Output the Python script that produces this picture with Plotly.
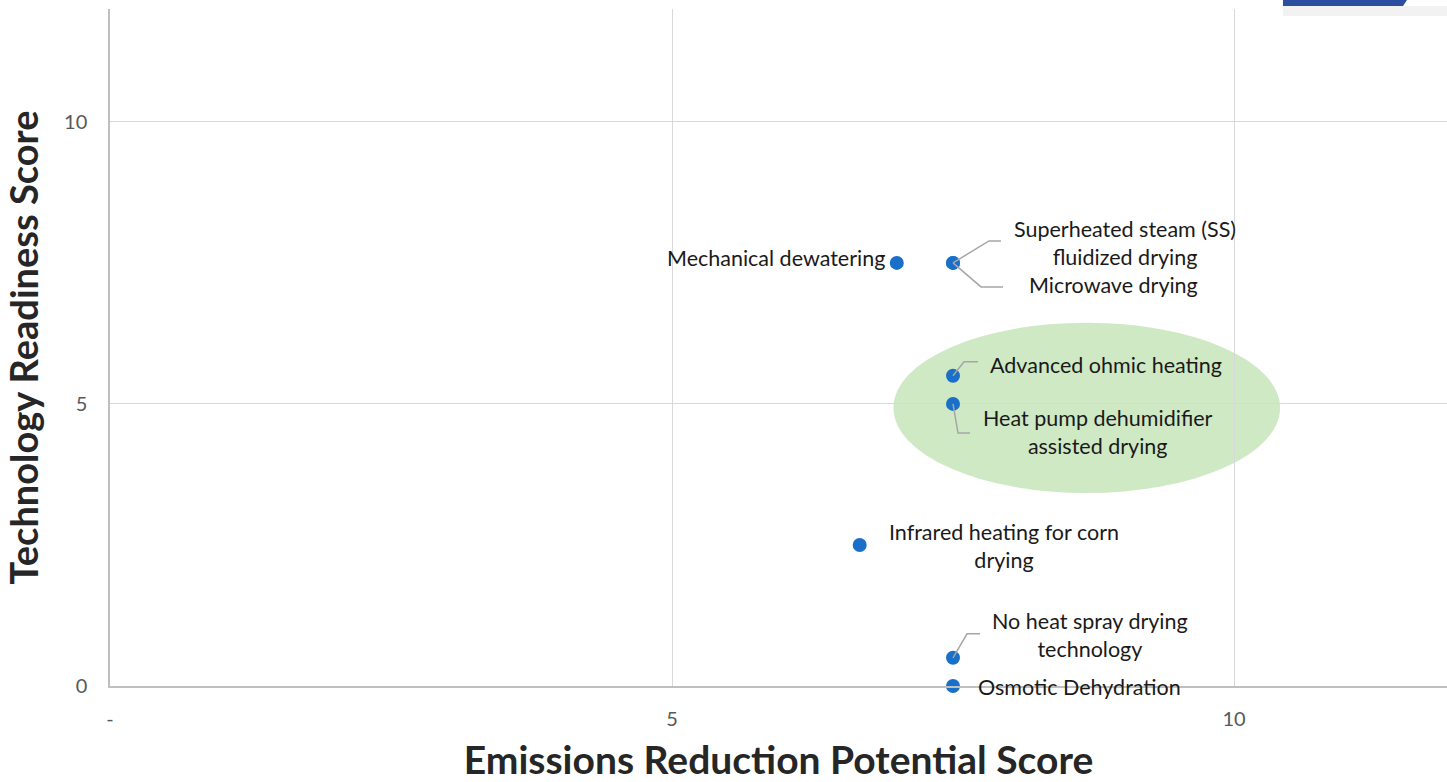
import plotly.graph_objects as go

# ---- data ----
names = [
    "Mechanical dewatering",
    "Superheated steam (SS)<br>fluidized drying",
    "Microwave drying",
    "Advanced ohmic heating",
    "Heat pump dehumidifier<br>assisted drying",
    "Infrared heating for corn<br>drying",
    "No heat spray drying<br>technology",
    "Osmotic Dehydration",
]
emissions_score = [7.0, 7.5, 7.5, 7.5, 7.5, 6.67, 7.5, 7.5]
readiness_score = [7.5, 7.5, 7.5, 5.5, 5.0, 2.5, 0.5, 0.0]
x_tick_vals = [0, 5, 10]
x_tick_text = ["-", "5", "10"]
y_tick_vals = [0, 5, 10]
y_tick_text = ["0", "5", "10"]

# label placement (pixel offsets from each point; up is positive)
label_shift = [(-10, 5), (172, 20), (160, -22), (153, 11), (145, -28), (144, -1), (137, 23), (126, -1)]
label_anchor = ["right", "center", "center", "center", "center", "center", "center", "center"]
# leader lines as pixel offsets (up is positive)
leaders = [None, [(0, 0), (36, 22), (48, 22)], [(0, 0), (28, -24), (50, -24)],
           [(0, 0), (11, 14), (25, 14)], [(0, 0), (5, -29), (17, -29)], None,
           [(0, 0), (14, 24), (27, 24)], None]

FONT = "Lato, 'Open Sans', sans-serif"
fig = go.Figure()

# highlight ellipse
fig.add_shape(type="circle", xref="x", yref="y", x0=6.97, x1=10.41, y0=3.42, y1=6.44,
              fillcolor="#cfe9c5", line=dict(width=0), layer="below")

for i, pts in enumerate(leaders):
    if pts is None:
        continue
    path = "M " + " L ".join(f"{px},{py}" for px, py in pts)
    fig.add_shape(type="path", xref="x", yref="y", xsizemode="pixel", ysizemode="pixel",
                  xanchor=emissions_score[i], yanchor=readiness_score[i], path=path,
                  line=dict(color="#a6a6a6", width=1.5))

fig.add_trace(go.Scatter(x=emissions_score, y=readiness_score, mode="markers",
                         marker=dict(color="#1a6fc9", size=14), hoverinfo="skip",
                         cliponaxis=False))

for i, n in enumerate(names):
    dx, dy = label_shift[i]
    fig.add_annotation(x=emissions_score[i], y=readiness_score[i], xref="x", yref="y",
                       text=n, showarrow=False, xshift=dx, yshift=dy, align="center",
                       xanchor=label_anchor[i],
                       font=dict(family=FONT, size=21.5, color="#1a1a1a"))

# decorative bar top-right
def px2paper_x(p):
    return (p - 110) / 1337
def px2paper_y(p):
    return (686 - p) / 677

fig.add_shape(type="rect", xref="paper", yref="paper",
              x0=px2paper_x(1283), x1=px2paper_x(1447), y0=px2paper_y(16), y1=px2paper_y(6),
              fillcolor="rgba(0,0,0,0.05)", line=dict(width=0))
fig.add_shape(type="path", xref="paper", yref="paper",
              path=f"M {px2paper_x(1283)},{px2paper_y(0)} L {px2paper_x(1407)},{px2paper_y(0)} "
                   f"L {px2paper_x(1403)},{px2paper_y(6)} L {px2paper_x(1283)},{px2paper_y(6)} Z",
              fillcolor="#2b4f9e", line=dict(width=0))

fig.update_layout(
    width=1447, height=782,
    margin=dict(l=110, r=0, t=9, b=96),
    plot_bgcolor="white", paper_bgcolor="white",
    showlegend=False,
    font=dict(family=FONT, color="#595959"),
    xaxis=dict(range=[0, 11.895], tickvals=x_tick_vals, ticktext=x_tick_text,
               showgrid=True, gridcolor="#d9d9d9", gridwidth=1,
               showline=True, linecolor="#bfbfbf", linewidth=1.5, zeroline=False,
               ticks="", ticklabelstandoff=14, tickfont=dict(size=20, color="#595959"),
               title=dict(text="<b>Emissions Reduction Potential Score</b>", standoff=27,
                          font=dict(size=39, color="#262626", family=FONT)),
               automargin=False),
    yaxis=dict(range=[0, 12], tickvals=y_tick_vals, ticktext=y_tick_text,
               showgrid=True, gridcolor="#d9d9d9", gridwidth=1,
               showline=True, linecolor="#bfbfbf", linewidth=1.5, zeroline=False,
               ticks="", ticklabelstandoff=17, tickfont=dict(size=20, color="#595959"),
               title=dict(text="<b>Technology Readiness Score</b>", standoff=16,
                          font=dict(size=38, color="#262626", family=FONT)),
               automargin=False),
)

fig.write_html("out.html", config={"displayModeBar": False},
               post_script="document.body.style.margin='0';document.body.style.overflow='hidden';")
